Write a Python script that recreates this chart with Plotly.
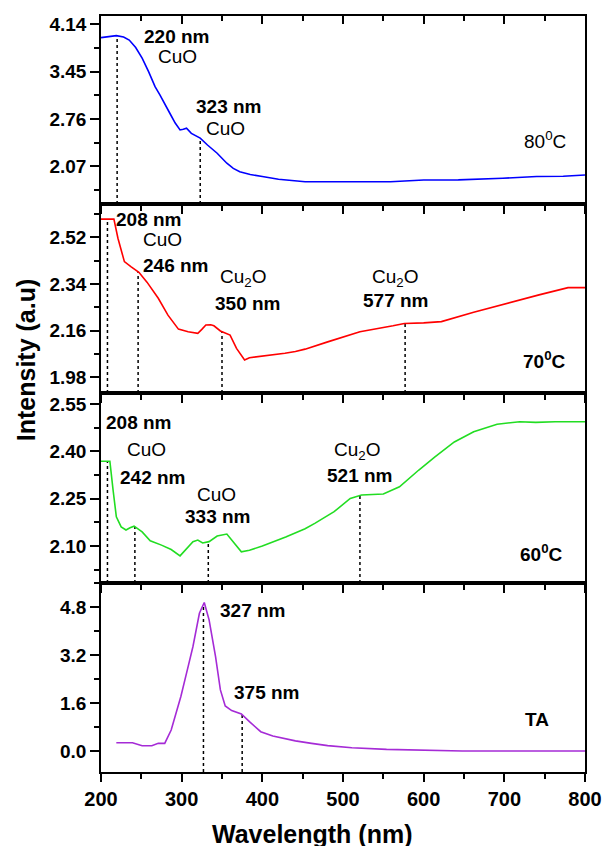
import numpy as np
import plotly.graph_objects as go

# ---------------- data ----------------
wl_80 = [200, 210, 219, 228, 235, 243, 251, 259, 267, 273, 279, 285, 292, 298, 302, 306, 312, 318, 323,
         332, 344, 356, 364, 372, 385, 400, 420, 453, 500, 559, 600, 643, 698, 740, 773, 800]
int_80 = [3.945, 3.96, 3.974, 3.955, 3.91, 3.80, 3.645, 3.45, 3.23, 3.11, 2.99, 2.85, 2.70, 2.60, 2.61, 2.625,
          2.55, 2.51, 2.48, 2.38, 2.26, 2.115, 2.04, 1.99, 1.95, 1.92, 1.88, 1.845, 1.843, 1.845, 1.87, 1.872,
          1.895, 1.92, 1.925, 1.943]

wl_70 = [200, 210, 216, 221, 225, 229, 237, 247, 257, 271, 283, 296, 308, 320, 325, 330, 336, 340, 348, 355,
         360, 368, 378, 384, 408, 428, 441, 453, 481, 521, 562, 576, 600, 622, 662, 703, 743, 779, 800]
int_70 = [2.59, 2.59, 2.59, 2.516, 2.47, 2.426, 2.407, 2.385, 2.347, 2.285, 2.22, 2.166, 2.156, 2.15, 2.165,
          2.182, 2.183, 2.179, 2.159, 2.15, 2.143, 2.092, 2.047, 2.056, 2.064, 2.073, 2.08, 2.089, 2.117, 2.156,
          2.179, 2.188, 2.19, 2.195, 2.231, 2.266, 2.298, 2.326, 2.326]

wl_60 = [200, 211, 215, 219, 225, 231, 236, 241, 251, 261, 275, 287, 298, 304, 314, 320, 326, 334, 344, 356,
         364, 374, 384, 400, 429, 441, 453, 465, 489, 509, 523, 550, 570, 594, 614, 638, 662, 691, 719, 739,
         763, 800]
int_60 = [2.369, 2.369, 2.277, 2.193, 2.161, 2.151, 2.158, 2.163, 2.145, 2.117, 2.103, 2.089, 2.069, 2.085,
          2.114, 2.119, 2.11, 2.114, 2.132, 2.138, 2.114, 2.082, 2.087, 2.10, 2.129, 2.142, 2.155, 2.172, 2.209,
          2.251, 2.262, 2.265, 2.288, 2.341, 2.383, 2.43, 2.462, 2.486, 2.494, 2.492, 2.494, 2.494]

wl_ta = [219, 239, 251, 263, 271, 279, 287, 299, 308, 314, 322, 328, 334, 342, 348, 354, 362, 374, 384, 398,
         413, 429, 441, 461, 481, 511, 554, 648, 800]
int_ta = [0.278, 0.278, 0.178, 0.178, 0.256, 0.256, 0.70, 1.82, 2.82, 3.49, 4.6, 4.96, 4.38, 3.15, 2.04, 1.505,
          1.35, 1.24, 0.98, 0.645, 0.50, 0.40, 0.34, 0.256, 0.18, 0.11, 0.056, 0.0, 0.0]

peaks_80 = [220, 323]
peaks_70 = [208, 246, 350, 577]
peaks_60 = [208, 242, 333, 521]
peaks_ta = [327, 375]

x_ticks = [200, 300, 400, 500, 600, 700, 800]

# ---------------- layout constants ----------------
FONT = "Liberation Sans, Arial, sans-serif"
panels = [
    dict(x=wl_80, y=int_80, peaks=peaks_80, color="#0000FF", rng=[1.52, 4.26], t0=2.07, dt=0.69, fmt=".2f",
         dom=[0.7513, 1.0]),
    dict(x=wl_70, y=int_70, peaks=peaks_70, color="#FF0000", rng=[1.92, 2.648], t0=1.98, dt=0.18, fmt=".2f",
         dom=[0.5013, 0.7513]),
    dict(x=wl_60, y=int_60, peaks=peaks_60, color="#22DD22", rng=[1.983, 2.585], t0=2.10, dt=0.15, fmt=".2f",
         dom=[0.25, 0.5013]),
    dict(x=wl_ta, y=int_ta, peaks=peaks_ta, color="#A52BD6", rng=[-0.70, 5.61], t0=0.0, dt=1.6, fmt=".1f",
         dom=[0.0, 0.25]),
]

fig = go.Figure()
layout = {}
for i, p in enumerate(panels, start=1):
    xa = "x" if i == 1 else f"x{i}"
    ya = "y" if i == 1 else f"y{i}"
    # dotted markers for peaks
    for pk in p["peaks"]:
        yv = float(np.interp(pk, p["x"], p["y"]))
        fig.add_trace(go.Scatter(x=[pk, pk], y=[p["rng"][0], yv], mode="lines", xaxis=xa, yaxis=ya,
                                 line=dict(color="black", width=1.5, dash="dot"), showlegend=False,
                                 hoverinfo="skip"))
    fig.add_trace(go.Scatter(x=p["x"], y=p["y"], mode="lines", xaxis=xa, yaxis=ya,
                             line=dict(color=p["color"], width=1.6), showlegend=False))
    xkey = "xaxis" if i == 1 else f"xaxis{i}"
    ykey = "yaxis" if i == 1 else f"yaxis{i}"
    layout[xkey] = dict(
        domain=[0, 1], anchor=ya, range=[200, 800], tickvals=x_ticks,
        ticks="outside", ticklen=8, tickwidth=1.5, tickcolor="black",
        showline=True, linecolor="black", linewidth=1.5, mirror=True,
        showgrid=False, zeroline=False, showticklabels=(i == 4),
        tickfont=dict(family=FONT, size=20, color="black", weight="bold"),
        minor=dict(ticks="outside", ticklen=5, tickwidth=1.5, tickcolor="black", dtick=50, tick0=0,
                   showgrid=False),
    )
    if i != 1:
        layout[xkey]["matches"] = "x"
    layout[ykey] = dict(
        domain=p["dom"], anchor=xa, range=p["rng"], tick0=p["t0"], dtick=p["dt"], tickformat=p["fmt"],
        ticks="outside", ticklen=9, tickwidth=1.5, tickcolor="black",
        showline=True, linecolor="black", linewidth=1.5, mirror=True,
        showgrid=False, zeroline=False,
        tickfont=dict(family=FONT, size=19, color="black", weight="bold"),
        minor=dict(ticks="outside", ticklen=5, tickwidth=1.5, tickcolor="black", dtick=p["dt"] / 2,
                   tick0=p["t0"], showgrid=False),
    )

# top border ticks of the top panel (pointing inward)
fig.add_trace(go.Scatter(x=[], y=[], xaxis="x5", yaxis="y", showlegend=False))
layout["xaxis5"] = dict(overlaying="x", anchor="y", side="top", range=[200, 800], tickvals=x_ticks,
                        ticks="inside", ticklen=8, tickwidth=1.5, tickcolor="black", showticklabels=False,
                        showgrid=False, zeroline=False, showline=False,
                        minor=dict(ticks="inside", ticklen=5, tickwidth=1.5, tickcolor="black", dtick=50,
                                   tick0=0, showgrid=False))

ann = []
def t(x, y, text, ref, bold=True, size=19):
    ann.append(dict(x=x, y=y, xref=ref[0], yref=ref[1], text=(f"<b>{text}</b>" if bold else text),
                    showarrow=False, xanchor="center", yanchor="middle",
                    font=dict(family=FONT, size=size, color="black")))

# panel 1
t(293, 3.965, "220 nm", ("x", "y")); t(295, 3.668, "CuO", ("x", "y"), bold=False)
t(358, 2.94, "323 nm", ("x", "y")); t(354.5, 2.624, "CuO", ("x", "y"), bold=False)
t(750, 2.454, "80<sup>0</sup>C", ("x", "y"), bold=False)
# panel 2
t(259, 2.587, "208 nm", ("x2", "y2")); t(276, 2.512, "CuO", ("x2", "y2"), bold=False)
t(292, 2.41, "246 nm", ("x2", "y2"))
t(376, 2.364, "Cu<sub>2</sub>O", ("x2", "y2"), bold=False); t(382, 2.266, "350 nm", ("x2", "y2"))
t(565, 2.362, "Cu<sub>2</sub>O", ("x2", "y2"), bold=False); t(565, 2.278, "577 nm", ("x2", "y2"))
t(750, 2.047, "70<sup>0</sup>C", ("x2", "y2"))
# panel 3
t(247, 2.492, "208 nm", ("x3", "y3")); t(256, 2.406, "CuO", ("x3", "y3"), bold=False)
t(264, 2.318, "242 nm", ("x3", "y3"))
t(343, 2.262, "CuO", ("x3", "y3"), bold=False); t(345, 2.195, "333 nm", ("x3", "y3"))
t(517, 2.401, "Cu<sub>2</sub>O", ("x3", "y3"), bold=False); t(520, 2.325, "521 nm", ("x3", "y3"))
t(746, 2.079, "60<sup>0</sup>C", ("x3", "y3"))
# panel 4
t(388, 4.68, "327 nm", ("x4", "y4")); t(405, 1.95, "375 nm", ("x4", "y4"))
t(740, 1.06, "TA", ("x4", "y4"))

# axis titles
ann.append(dict(x=0.4355, y=-0.0608, xref="paper", yref="paper", text="<b>Wavelength (nm)</b>",
                showarrow=False, xanchor="center", yanchor="top",
                font=dict(family=FONT, size=25, color="black")))
ann.append(dict(x=-0.155, y=0.546, xref="paper", yref="paper", text="<b>Intensity (a.u)</b>",
                showarrow=False, xanchor="center", yanchor="middle", textangle=-90,
                font=dict(family=FONT, size=25, color="black")))

fig.update_layout(**layout)
fig.update_layout(width=614, height=846, margin=dict(l=101, r=17, t=16, b=74),
                  paper_bgcolor="white", plot_bgcolor="white", annotations=ann, showlegend=False)
fig.write_html("out.html")
